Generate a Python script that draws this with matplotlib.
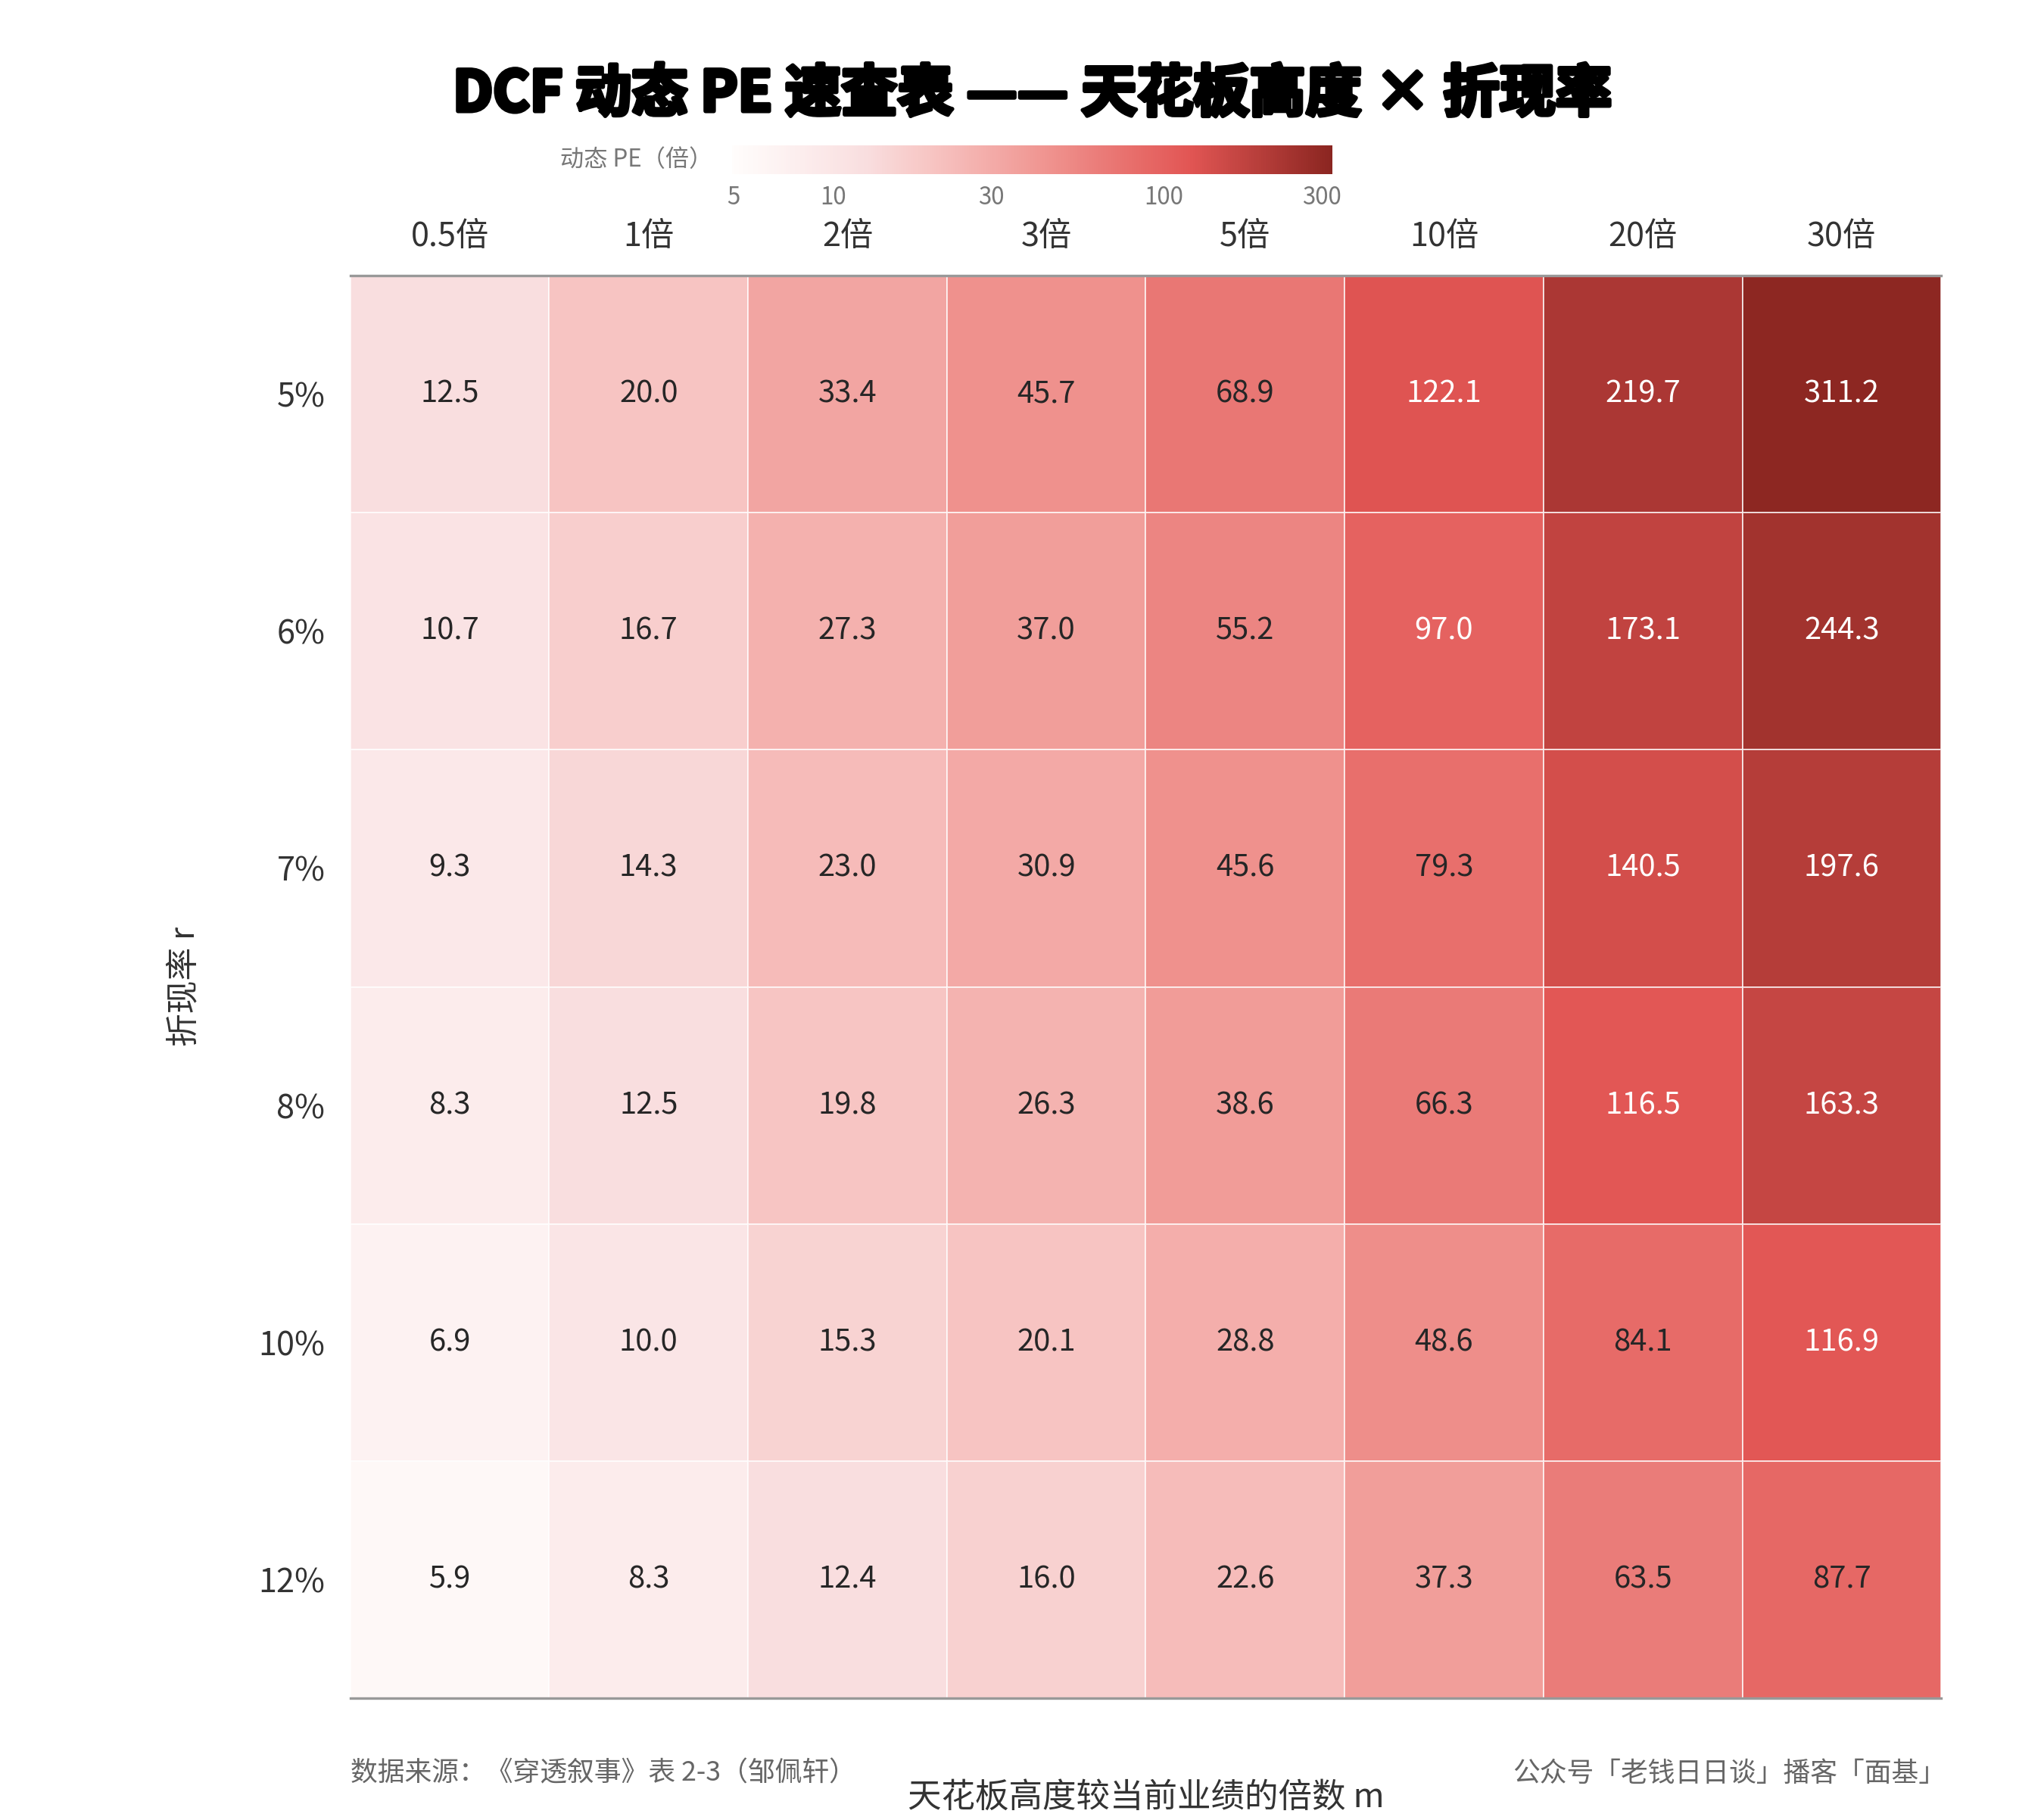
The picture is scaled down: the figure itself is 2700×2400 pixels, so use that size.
import numpy as np
import matplotlib
matplotlib.use("Agg")
import matplotlib.pyplot as plt
import matplotlib.patheffects as pe
from matplotlib.colors import LinearSegmentedColormap, LogNorm

plt.rcParams['font.family'] = ['Noto Sans CJK SC', 'DejaVu Sans']

multiples = ["0.5倍", "1倍", "2倍", "3倍", "5倍", "10倍", "20倍", "30倍"]
rates = ["5%", "6%", "7%", "8%", "10%", "12%"]
pe_5 = [12.5, 20.0, 33.4, 45.7, 68.9, 122.1, 219.7, 311.2]
pe_6 = [10.7, 16.7, 27.3, 37.0, 55.2, 97.0, 173.1, 244.3]
pe_7 = [9.3, 14.3, 23.0, 30.9, 45.6, 79.3, 140.5, 197.6]
pe_8 = [8.3, 12.5, 19.8, 26.3, 38.6, 66.3, 116.5, 163.3]
pe_10 = [6.9, 10.0, 15.3, 20.1, 28.8, 48.6, 84.1, 116.9]
pe_12 = [5.9, 8.3, 12.4, 16.0, 22.6, 37.3, 63.5, 87.7]
cbar_ticks = [5, 10, 30, 100, 300]

Z = np.array([pe_5, pe_6, pe_7, pe_8, pe_10, pe_12])

cmap = LinearSegmentedColormap.from_list(
    "pe", [(0.0, "#fffdfc"), (0.222, "#f9dedf"), (0.334, "#f7c4c2"),
           (0.532, "#ef918d"), (0.76, "#e25654"), (1.0, "#8a2520")])
norm = LogNorm(vmin=4.95, vmax=323)

fig = plt.figure(figsize=(9, 8), dpi=300)
ax = fig.add_axes([0.1714, 0.0654, 0.7783, 0.7829])

nr, nc = Z.shape
ax.pcolormesh(np.arange(nc + 1), np.arange(nr + 1), Z, cmap=cmap, norm=norm,
              edgecolors=(1, 1, 1, 0.7), linewidth=0.4)
ax.set_xlim(0, nc)
ax.set_ylim(nr, 0)

for i in range(nr):
    for j in range(nc):
        v = Z[i, j]
        col = "white" if v > 90 else "#262626"
        ax.text(j + 0.5, i + 0.5, f"{v:.1f}", ha="center", va="center",
                fontsize=9.6, color=col, fontweight="light")

ax.xaxis.tick_top()
ax.set_xticks(np.arange(nc) + 0.5)
ax.set_xticklabels(multiples, fontsize=10.4, color="#333333", fontweight="light")
ax.set_yticks(np.arange(nr) + 0.5)
ax.set_yticklabels(rates, fontsize=10.4, color="#333333", fontweight="light")
ax.tick_params(axis="both", length=0)
ax.tick_params(axis="x", pad=7)
ax.tick_params(axis="y", pad=8)

for s in ["left", "right"]:
    ax.spines[s].set_visible(False)
for s in ["top", "bottom"]:
    ax.spines[s].set_color("#999999")
    ax.spines[s].set_linewidth(0.8)

fig.text(0.5605, 0.011, "天花板高度较当前业绩的倍数 m", ha="center", va="center",
         fontsize=10.7, color="#333333", fontweight="light")
fig.text(0.090, 0.457, "折现率 r", ha="center", va="center", rotation=90,
         fontsize=10.5, color="#333333", fontweight="light")

fig.text(0.505, 0.948, "DCF 动态 PE 速查表 —— 天花板高度 × 折现率", ha="center",
         va="center", fontsize=17.8, fontweight="heavy", color="black",
         path_effects=[pe.withStroke(linewidth=1.3, foreground="black")])

cax = fig.add_axes([0.358, 0.904, 0.294, 0.016])
grad = np.logspace(np.log10(4.95), np.log10(323), 512)
cax.pcolormesh(grad, [0, 1], grad[:-1][None, :], cmap=cmap, norm=norm)
cax.set_xscale("log")
cax.set_xlim(4.95, 323)
cax.set_ylim(0, 1)
cax.set_yticks([])
cax.set_xticks(cbar_ticks)
cax.set_xticklabels([str(t) for t in cbar_ticks], fontsize=7.5, color="#777777",
                    fontweight="light")
cax.xaxis.set_minor_locator(matplotlib.ticker.NullLocator())
cax.tick_params(axis="x", length=0, pad=3.5)
for s in cax.spines.values():
    s.set_visible(False)
fig.text(0.3485, 0.912, "动态 PE（倍）", ha="right", va="center", fontsize=7.5,
         color="#777777", fontweight="light")

fig.text(0.1714, 0.0238, "数据来源：《穿透叙事》表 2-3（邹佩轩）", ha="left",
         va="center", fontsize=8.6, color="#666666", fontweight="light")
fig.text(0.952, 0.0238, "公众号「老钱日日谈」播客「面基」", ha="right",
         va="center", fontsize=8.6, color="#666666", fontweight="light")

fig.savefig("out.png", dpi=300)
